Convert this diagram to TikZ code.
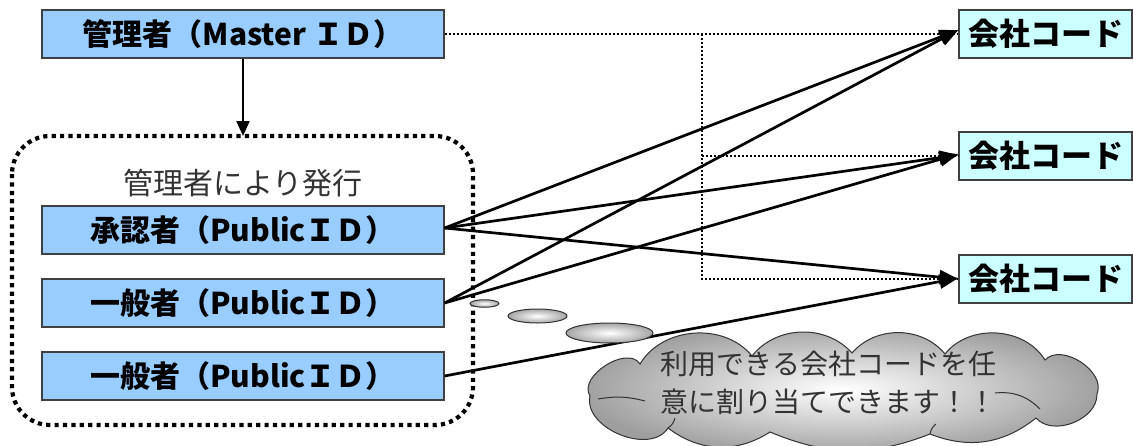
\documentclass[tikz,border=0pt]{standalone}
\usepackage{fontspec}
\newfontfamily\jp{Noto Sans CJK JP}
\usetikzlibrary{arrows.meta,shapes.geometric,positioning}
\definecolor{boxblue}{HTML}{99CCFF}
\definecolor{boxcyan}{HTML}{CCFFFF}
\tikzset{
  rolebox/.style={draw=black!75, line width=1.2pt, fill=boxblue, minimum width=402pt, minimum height=48pt, inner sep=0pt,
    font=\jp\bfseries\fontsize{30}{32}\selectfont},
  codebox/.style={draw=black!75, line width=1.2pt, fill=boxcyan, minimum width=173pt, minimum height=48pt, inner sep=0pt,
    font=\jp\bfseries\fontsize{31}{33}\selectfont},
  link/.style={line width=2.7pt, -{Triangle[length=19pt,width=14pt]}},
  dotlink/.style={line width=2pt, dash pattern=on 2pt off 2pt},
  groupline/.style={line width=4.2pt, dash pattern=on 4.2pt off 4.2pt, rounded corners=38pt},
  bubble/.style={draw=black!80, line width=1pt, inner color=white, outer color=black!35},
  puffline/.style={draw=black!80, line width=1pt},
  softtext/.style={text=black!80, font=\jp\fontsize{28}{38}\selectfont}
}
\begin{document}
\begin{tikzpicture}[x=1pt,y=-1pt]
\useasboundingbox (0,0) rectangle (1133,445);
% group frame
\draw[groupline] (12,136) rectangle (473,425);
\node[softtext, font=\jp\fontsize{30}{32}\selectfont] (issued) at (243,183) {管理者により発行};
% boxes
\node[rolebox] (master) at (243,34) {管理者（Master ＩＤ）};
\node[rolebox] (appr) at (243,230) {承認者（PublicＩＤ）};
\node[rolebox] (gen1) at (243,303) {一般者（PublicＩＤ）};
\node[rolebox] (gen2) at (243,376) {一般者（PublicＩＤ）};
\node[codebox] (c1) at (1045.5,34) {会社コード};
\node[codebox] (c2) at (1045.5,156) {会社コード};
\node[codebox] (c3) at (1045.5,279) {会社コード};
\coordinate (frametop) at (243,136);
\draw[line width=2.2pt, -{Triangle[length=15pt,width=13pt]}] (master.south) -- (frametop);
% dotted links
\coordinate (j) at (702,34);
\draw[dotlink] (master.east) -- (c1.west);
\draw[dotlink] (j) -- (j |- c3.west) -- (c3.west);
\draw[dotlink] (j |- c2.west) -- (c2.west);
% solid links
\draw[link] ([yshift=2pt]appr.east) -- ([yshift=4pt]c1.west);
\draw[link] ([yshift=2pt]appr.east) -- ([yshift=1pt]c2.west);
\draw[link] ([yshift=2pt]appr.east) -- (c3.west);
\draw[link] (gen1.east) -- ([yshift=4pt]c1.west);
\draw[link] (gen1.east) -- ([yshift=2pt]c2.west);
\draw[link] (gen2.east) -- ([yshift=1pt]c3.west);
% thought bubbles
\node[bubble, ellipse, minimum width=29pt, minimum height=7.5pt, inner sep=0pt] (b1) at (484.5,303.5) {};
\node[bubble, ellipse, minimum width=59pt, minimum height=14pt, inner sep=0pt] (b2) at (537.5,316) {};
\node[bubble, ellipse, minimum width=87pt, minimum height=20pt, inner sep=0pt] (b3) at (609.5,333) {};
% cloud
\path[bubble, outer color=black!38]
  (640,364) to[bend left=55] (752,356)
  to[bend left=50] (852,353)
  to[bend left=50] (945,354)
  to[bend left=55] (1045,360)
  to[bend left=80] (1097,394)
  to[bend left=70] (1036,418)
  to[bend left=30] (930,434)
  to[bend left=22] (770,432)
  to[bend left=35] (668,428)
  to[bend left=80] (590,396)
  to[bend left=90] (640,364) -- cycle;
\draw[puffline] (598,399) to[bend left=12] (645,401);
\draw[puffline] (995,393) to[bend left=25] (1040,409);
\draw[puffline] (668,428) to[bend right=20] (675,418);
\draw[puffline] (930,434) to[bend left=20] (936,424);
\node[softtext, align=left, anchor=west] (msg) at (657,383) {利用できる会社コードを任\\意に割り当てできます！！};
\end{tikzpicture}
\end{document}
